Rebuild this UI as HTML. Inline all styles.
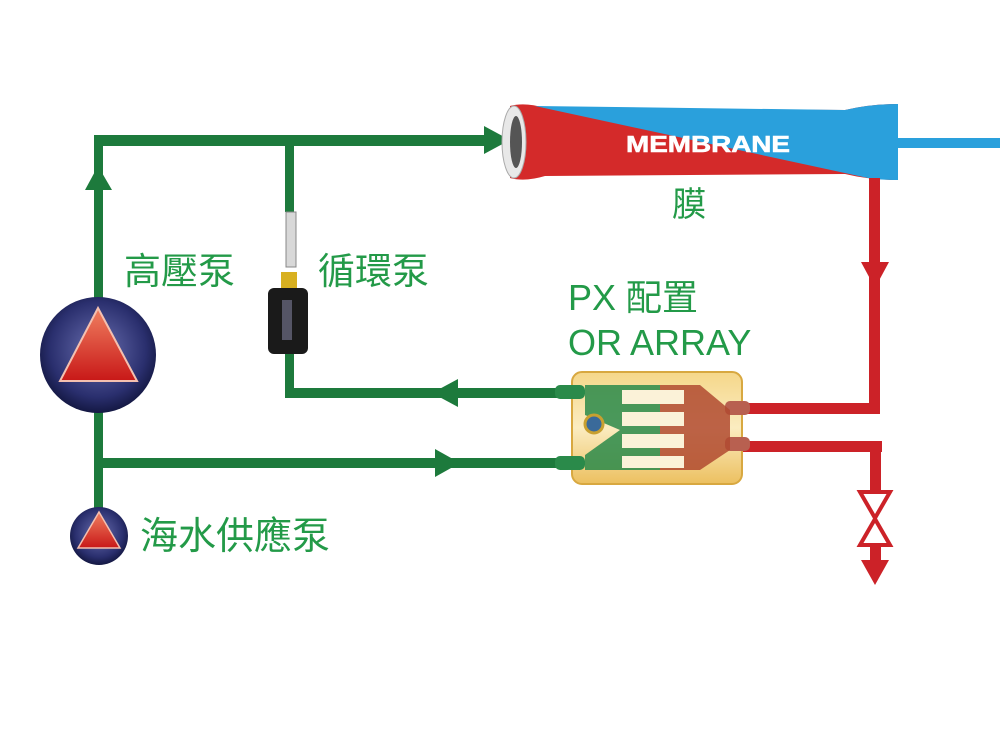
<!DOCTYPE html>
<html><head><meta charset="utf-8"><style>
html,body{margin:0;padding:0;background:#fff;}
svg{display:block}
text{font-family:"Liberation Sans","Noto Sans CJK TC",sans-serif;fill:#239a48}
</style></head><body>
<svg width="1000" height="743" viewBox="0 0 1000 743" xmlns="http://www.w3.org/2000/svg">
<defs>
<radialGradient id="pb" cx="0.5" cy="0.45" r="0.55">
<stop offset="0" stop-color="#6a6fb0"/><stop offset="0.75" stop-color="#2a2f6e"/><stop offset="1" stop-color="#141843"/></radialGradient>
<linearGradient id="tri" x1="0" y1="0" x2="0" y2="1"><stop offset="0" stop-color="#f08060"/><stop offset="1" stop-color="#c81818"/></linearGradient>
<linearGradient id="px" x1="0" y1="0" x2="0" y2="1"><stop offset="0" stop-color="#f5d78a"/><stop offset="0.5" stop-color="#fbecc0"/><stop offset="1" stop-color="#ecc060"/></linearGradient>
</defs>
<g fill="#1d7a3c">
<rect x="94" y="135" width="400" height="11"/>
<polygon points="484,126 510,140 484,154"/>
<rect x="94" y="135" width="9" height="165"/>
<polygon points="85,190 98,166 112,190"/>
<rect x="94" y="410" width="9" height="100"/>
<rect x="98" y="458" width="470" height="10"/>
<polygon points="435,449 460,463 435,477"/>
<rect x="285" y="140" width="9" height="72"/>
<rect x="285" y="350" width="9" height="48"/>
<rect x="285" y="388" width="280" height="10"/>
<polygon points="458,379 432,393 458,407"/>
</g>
<rect x="286" y="212" width="10" height="55" fill="#d8d8d8" stroke="#888" stroke-width="1"/>
<rect x="281" y="272" width="16" height="16" fill="#d8b020"/>
<rect x="268" y="288" width="40" height="66" rx="6" fill="#1a1a1a"/>
<rect x="282" y="300" width="10" height="40" fill="#556"/>
<path d="M510,106 Q525,102 545,108 L845,110 Q870,104 898,104 L898,180 Q870,180 845,174 L545,176 Q525,182 510,178 Z" fill="#d42a2a"/>
<path d="M535,106 L845,110 Q870,104 898,104 L898,180 Q880,180 868,178 Z" fill="#2aa0dc"/>
<ellipse cx="514" cy="142" rx="12" ry="36" fill="#e8e8e8" stroke="#aaa"/>
<ellipse cx="516" cy="142" rx="6" ry="26" fill="#555"/>
<rect x="898" y="138" width="102" height="10" fill="#2aa0dc"/>
<text x="626" y="152" font-size="23" textLength="164" lengthAdjust="spacingAndGlyphs" style="fill:#fff;font-family:'Liberation Sans',sans-serif;font-weight:bold" stroke="#fff" stroke-width="0.6">MEMBRANE</text>
<g fill="#cc2228">
<rect x="869" y="178" width="11" height="236"/>
<polygon points="861,262 875,288 889,262"/>
<rect x="742" y="403" width="138" height="11"/>
<rect x="742" y="441" width="140" height="11"/>
<rect x="870" y="441" width="11" height="52"/>
<rect x="870" y="545" width="11" height="18"/>
<polygon points="861,560 875,585 889,560"/>
</g>
<polygon points="860,492 890,492 875,518" fill="#fff" stroke="#cc2228" stroke-width="4"/>
<polygon points="860,545 890,545 875,519" fill="#fff" stroke="#cc2228" stroke-width="4"/>
<rect x="572" y="372" width="170" height="112" rx="10" fill="url(#px)" stroke="#d8a840" stroke-width="2"/>
<rect x="555" y="385" width="30" height="14" rx="5" fill="#2a8a4a"/>
<rect x="555" y="456" width="30" height="14" rx="5" fill="#2a8a4a"/>
<rect x="725" y="401" width="25" height="14" rx="5" fill="#b86050"/>
<rect x="725" y="437" width="25" height="14" rx="5" fill="#b86050"/>
<polygon points="585,385 660,385 660,470 585,470 585,455 620,430 585,415" fill="#2a8a4a" opacity="0.85"/>
<polygon points="660,385 700,385 730,410 730,450 700,470 660,470" fill="#b04a30" opacity="0.85"/>
<rect x="622" y="390" width="62" height="14" fill="#fbf2d8"/>
<rect x="622" y="412" width="62" height="14" fill="#fbf2d8"/>
<rect x="622" y="434" width="62" height="14" fill="#fbf2d8"/>
<rect x="622" y="456" width="62" height="12" fill="#fbf2d8"/>
<circle cx="594" cy="424" r="9" fill="#3a6a9a" stroke="#c8a030" stroke-width="3"/>
<circle cx="98" cy="355" r="58" fill="url(#pb)"/>
<polygon points="98,308 137,381 60,381" fill="url(#tri)" stroke="#f4c0b0" stroke-width="2"/>
<circle cx="99" cy="536" r="29" fill="url(#pb)"/>
<polygon points="99,512 120,548 78,548" fill="url(#tri)" stroke="#f4c0b0" stroke-width="1.5"/>
<text x="124" y="284" font-size="37">高壓泵</text>
<text x="318" y="284" font-size="37">循環泵</text>
<text x="672" y="216" font-size="34">膜</text>
<text x="568" y="310" font-size="36">PX  配置</text>
<text x="568" y="355" font-size="36">OR ARRAY</text>
<text x="140" y="549" font-size="38">海水供應泵</text>
</svg>
</body></html>
